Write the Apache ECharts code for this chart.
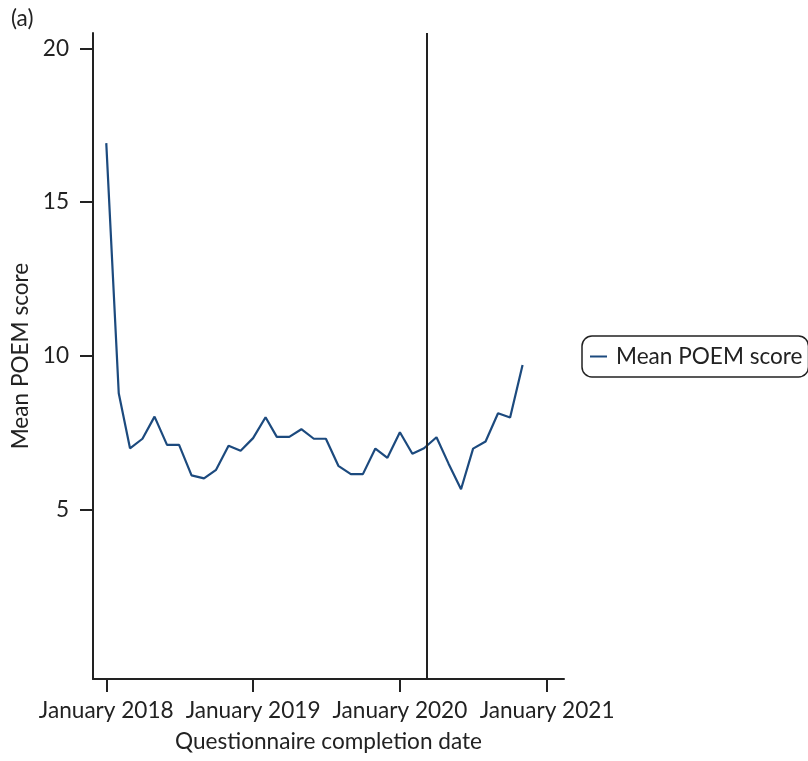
<!DOCTYPE html>
<html>
<head>
<meta charset="utf-8">
<script src="https://cdn.jsdelivr.net/npm/echarts@6/dist/echarts.min.js"></script>
<style>
  html, body { margin: 0; padding: 0; background: #fff; }
  #chart { width: 808px; height: 761px; }
</style>
</head>
<body>
<div id="chart"></div>
<script>
// Monthly questionnaire dates (first of each month)
const months = [
  '2018-01-01','2018-02-01','2018-03-01','2018-04-01','2018-05-01','2018-06-01',
  '2018-07-01','2018-08-01','2018-09-01','2018-10-01','2018-11-01','2018-12-01',
  '2019-01-01','2019-02-01','2019-03-01','2019-04-01','2019-05-01','2019-06-01',
  '2019-07-01','2019-08-01','2019-09-01','2019-10-01','2019-11-01','2019-12-01',
  '2020-01-01','2020-02-01','2020-03-01','2020-04-01','2020-05-01','2020-06-01',
  '2020-07-01','2020-08-01','2020-09-01','2020-10-01','2020-11-01'
];
// Mean POEM score per month
const meanPoem = [
  16.92, 8.79, 7.00, 7.31, 8.03, 7.11, 7.11, 6.12, 6.02, 6.30, 7.08, 6.92,
  7.33, 8.01, 7.37, 7.37, 7.62, 7.31, 7.31, 6.43, 6.16, 6.16, 6.99, 6.69,
  7.52, 6.82, 7.00, 7.36, 6.50, 5.67, 6.99, 7.22, 8.14, 8.00, 9.71
];
const xTicks = ['2018-01-01', '2019-01-01', '2020-01-01', '2021-01-01'];
const yTicks = [5, 10, 15, 20];
const eventDate = '2020-03-08';
const seriesName = 'Mean POEM score';

// dates are placed on a numeric (millisecond) axis
const ts = s => { const p = s.split('-').map(Number); return Date.UTC(p[0], p[1] - 1, p[2]); };
const FONT = 'Lato';
const INK = '#222222';
const FS = 22.6;

const chart = echarts.init(document.getElementById('chart'));
chart.setOption({
  animation: false,
  backgroundColor: '#ffffff',
  textStyle: { fontFamily: FONT },
  graphic: [{
    type: 'text', left: 11, top: 7,
    style: { text: '(a)', font: FS + 'px ' + FONT, fill: INK }
  }],
  legend: {
    left: 582, top: 336,
    padding: [9, 6, 9, 8],
    borderColor: INK, borderWidth: 1.5, borderRadius: 10,
    icon: 'rect', itemWidth: 17, itemHeight: 2, itemGap: 0,
    textStyle: { fontSize: FS, lineHeight: 22, color: INK, fontFamily: FONT, padding: [0, 0, 0, 4] },
    data: [seriesName]
  },
  grid: { left: 93, right: 244, top: 33, bottom: 82, containLabel: false },
  xAxis: {
    type: 'value',
    min: ts('2017-11-29'), max: ts('2021-02-12'),
    name: 'Questionnaire completion date',
    nameLocation: 'middle', nameGap: 51,
    nameTextStyle: { fontSize: FS, color: INK, fontFamily: FONT },
    axisLine: { onZero: false, lineStyle: { color: INK, width: 2 } },
    axisTick: { show: true, length: 13, lineStyle: { color: INK, width: 2 }, customValues: xTicks.map(ts) },
    axisLabel: {
      fontSize: FS, color: INK, fontFamily: FONT, margin: 20,
      customValues: xTicks.map(ts),
      formatter: v => 'January ' + new Date(v).getUTCFullYear()
    },
    splitLine: { show: false }
  },
  yAxis: {
    type: 'value', min: -0.5, max: 20.5,
    name: 'Mean POEM score',
    nameLocation: 'middle', nameGap: 56,
    nameTextStyle: { fontSize: FS, color: INK, fontFamily: FONT },
    axisLine: { show: true, onZero: false, lineStyle: { color: INK, width: 2 } },
    axisTick: { show: true, length: 13, lineStyle: { color: INK, width: 2 }, customValues: yTicks },
    axisLabel: { fontSize: FS, color: INK, fontFamily: FONT, margin: 24, customValues: yTicks },
    splitLine: { show: false }
  },
  series: [{
    name: seriesName,
    type: 'line',
    showSymbol: false,
    symbol: 'none',
    color: '#1c4a7e',
    lineStyle: { width: 2.2, color: '#1c4a7e' },
    data: months.map((m, i) => [ts(m), meanPoem[i]]),
    markLine: {
      silent: true, symbol: 'none',
      label: { show: false },
      lineStyle: { color: INK, width: 2, type: 'solid' },
      data: [{ xAxis: ts(eventDate) }]
    }
  }]
});
</script>
</body>
</html>
